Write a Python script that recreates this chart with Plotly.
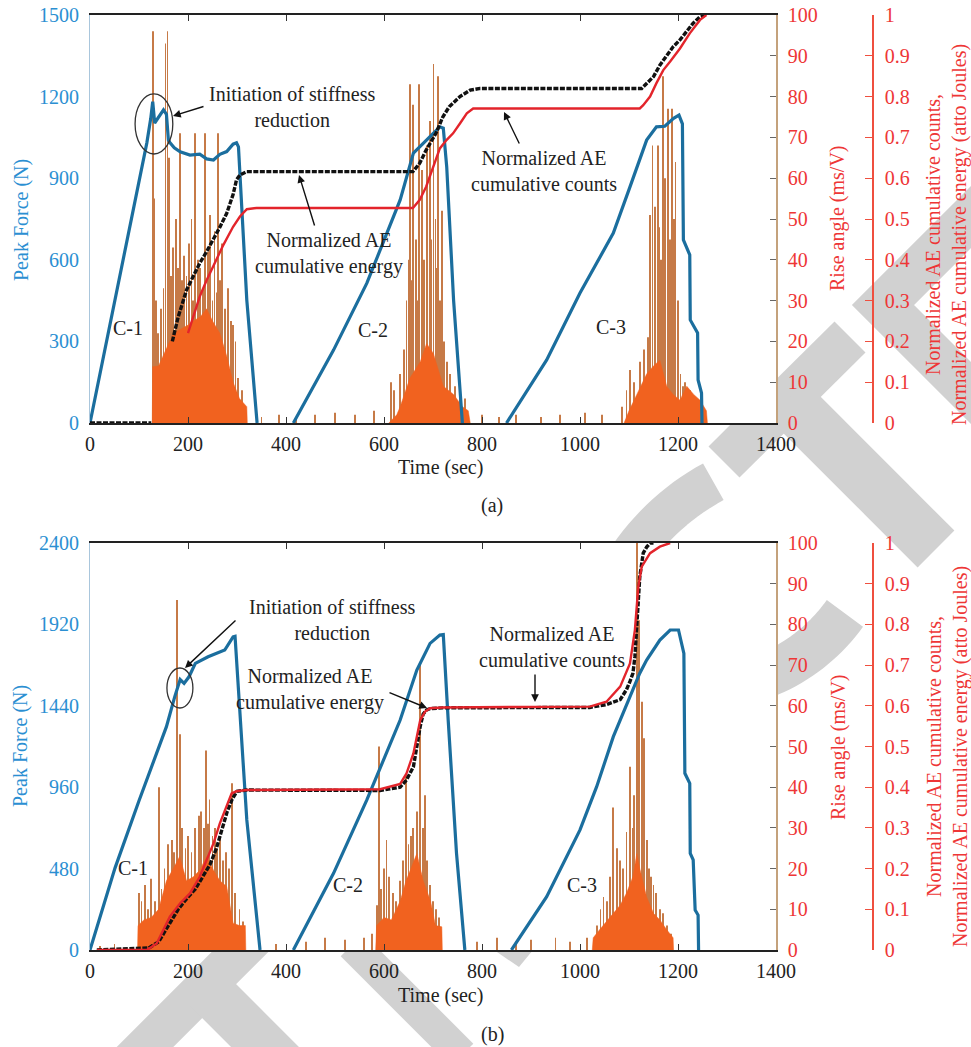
import math
import plotly.graph_objects as go

# ---------------- data ----------------
# Panel (a): Peak force (N)
force_t_a = [0, 116, 124, 128, 132, 140, 150, 156, 160, 163, 172, 184, 204, 224, 238, 252, 265, 279, 292, 299, 303, 320, 341, None,
             415, 497, 565, 633, 660, 687, 701, 714, 721, 728, 742, 755, 760, None,
             850, 932, 1000, 1068, 1102, 1136, 1156, 1173, 1191, 1202, 1209, 1211, 1224, 1225, 1240, 1241, 1248, 1249]
force_a = [0, 1030, 1120, 1181, 1103, 1125, 1151, 1135, 1040, 1031, 1012, 997, 985, 988, 971, 967, 988, 998, 1025, 1030, 1015, 452, 0, None,
           0, 268, 514, 820, 992, 1040, 1066, 1089, 1084, 942, 452, 147, 0, None,
           0, 232, 478, 698, 868, 1040, 1089, 1091, 1120, 1132, 1100, 673, 618, 379, 331, 158, 110, 0]

# Panel (a): rise angle, dense body of each burst
body_t_a1 = [127, 128, 140, 155, 170, 185, 200, 211, 225, 238, 250, 265, 280, 292, 305, 320, 321]
body_ra_a1 = [0, 13.8, 14, 18, 22, 23, 24, 25, 26, 28, 25, 22, 16, 10, 6, 4, 0]
body_t_a2 = [610, 626, 633, 653, 674, 687, 701, 721, 742, 760, 772, 776]
body_ra_a2 = [0, 2, 4, 11, 15, 19.5, 17, 9, 7, 4, 3, 0]
body_t_a3 = [1090, 1100, 1116, 1136, 1150, 1163, 1177, 1190, 1204, 1218, 1232, 1245, 1258, 1260]
body_ra_a3 = [0, 3, 7, 12, 14, 15.4, 9, 7, 5.6, 9, 7, 5.6, 3, 0]

# Panel (a): rise angle spikes
spike_t_a1 = [128, 130, 134, 138, 145, 150, 154, 158, 161, 165, 170, 176, 180, 184, 188, 191, 197, 202, 207, 211,
              215, 220, 225, 230, 235, 240, 245, 250, 254, 258, 262, 266, 270, 276, 282, 287, 292, 297, 302, 310]
spike_ra_a1 = [96, 55, 30, 22, 28, 33, 93, 96, 65, 36, 43, 50, 38, 71, 35, 41, 36, 44, 50, 30,
               71, 40, 38, 33, 71, 42, 51, 30, 47, 32, 71, 35, 44, 28, 33, 25, 24, 20, 11, 8]
noise_t_a1 = [350, 385, 420, 460, 500, 540, 580]
noise_ra_a1 = [1.5, 2, 1.5, 2, 2.5, 2, 3]
spike_t_a2 = [615, 620, 633, 640, 646, 650, 653, 657, 660, 665, 668, 672, 677, 681, 687, 694, 697, 701, 705, 708,
              711, 715, 718, 722, 728, 735, 745, 755, 765]
spike_ra_a2 = [10, 8, 12, 18, 30, 40, 83, 35, 78, 45, 30, 83, 62, 40, 68, 74, 45, 88, 50, 38,
               85, 30, 52, 20, 15, 12, 9, 8, 6]
noise_t_a2 = [800, 835, 870, 920, 960, 1010, 1045, 1085]
noise_ra_a2 = [2, 1.5, 2, 1.5, 2, 2.5, 2, 4]
spike_t_a3 = [1095, 1102, 1110, 1122, 1130, 1139, 1143, 1148, 1153, 1159, 1162, 1166, 1170, 1174, 1180, 1184, 1187,
              1191, 1195, 1200, 1205, 1210, 1215, 1224, 1235, 1245]
spike_ra_a3 = [8, 13, 10, 15, 18, 21, 51, 68, 53, 68, 48, 40, 85, 60, 77, 45, 77,
               50, 64, 30, 12, 9, 10, 8, 6, 5]

# Panel (a): normalized AE cumulative counts (black) and energy (red)
blk_t_a = [0, 125, None, 168, 180, 197, 210, 224, 238, 252, 265, 279, 292, 299, 306, 320, 659, 673, 686, 706,
           720, 733, 755, 776, 796, 1126, 1136, 1150, 1163, 1177, 1190, 1204, 1218, 1231, 1245, 1258]
blk_a = [0, 0, None, 0.2, 0.26, 0.326, 0.36, 0.392, 0.42, 0.449, 0.48, 0.514, 0.56, 0.596, 0.608, 0.616, 0.616, 0.637, 0.669, 0.71,
         0.75, 0.775, 0.8, 0.816, 0.82, 0.82, 0.833, 0.849, 0.877, 0.902, 0.922, 0.939, 0.959, 0.98, 0.996, 1.0]
red_t_a = [200, 210, 224, 238, 252, 265, 272, 292, 306, 320, 340, 659, 673, 686, 700, 714, 728, 741, 755, 769,
           782, 1122, 1129, 1143, 1156, 1170, 1184, 1204, 1224, 1245, 1258]
red_a = [0.22, 0.26, 0.31, 0.35, 0.385, 0.416, 0.436, 0.481, 0.506, 0.524, 0.527, 0.527, 0.547, 0.579, 0.628, 0.673, 0.694, 0.71, 0.734, 0.759,
         0.771, 0.771, 0.779, 0.8, 0.833, 0.865, 0.886, 0.918, 0.955, 0.988, 1.0]

# Panel (b): Peak force (N)
force_t_b = [0, 51, 100, 156, 173, 184, 192, 202, 215, 241, 275, 292, 296, 320, 347, None,
             415, 497, 565, 633, 667, 694, 714, 721, 731, 748, 765, None,
             860, 932, 1000, 1034, 1068, 1102, 1122, 1136, 1163, 1184, 1201, 1212, 1214, 1224, 1225, 1231, 1235, 1241, 1242]
force_b = [0, 483, 880, 1317, 1494, 1595, 1572, 1611, 1690, 1729, 1769, 1847, 1850, 767, 0, None,
           0, 452, 885, 1356, 1651, 1808, 1857, 1860, 1356, 570, 0, None,
           0, 314, 708, 963, 1258, 1494, 1632, 1710, 1828, 1887, 1887, 1749, 1042, 983, 570, 531, 236, 206, 0]

body_t_b1 = [97, 98, 110, 125, 140, 156, 170, 183, 197, 211, 224, 238, 252, 265, 279, 292, 305, 317, 318]
body_ra_b1 = [0, 6, 7.4, 8, 10, 17, 20, 23, 17, 18, 19.6, 23, 19.6, 17, 15.6, 6.6, 6, 6, 0]
body_t_b2 = [583, 585, 600, 615, 633, 645, 655, 667, 680, 695, 705, 718, 719]
body_ra_b2 = [0, 6, 8, 7.4, 12, 17, 20, 23.7, 17, 12, 6, 5.7, 0]
body_t_b3 = [1025, 1027, 1040, 1055, 1068, 1082, 1095, 1108, 1116, 1122, 1130, 1136, 1150, 1163, 1177, 1190, 1191]
body_ra_b3 = [0, 3, 5, 7, 9, 11, 14, 18, 23.7, 20, 16, 13, 9, 7.4, 5, 3, 0]

spike_t_b1 = [100, 105, 112, 118, 125, 132, 140, 146, 152, 160, 167, 172, 177, 183, 188, 195, 200, 207, 215, 222,
              227, 232, 236, 240, 244, 250, 255, 260, 266, 272, 278, 284, 290, 296, 305, 312]
spike_ra_b1 = [14, 12, 16, 10, 17.5, 12, 40, 15, 20, 26, 27, 24, 86, 53, 30, 25, 28, 24, 30, 33,
               34, 30, 49, 31, 37, 28, 30, 25, 28, 22, 24, 20, 41, 14, 10, 7]
noise_t_b1 = [20, 50, 380, 440, 480, 520, 560]
noise_ra_b1 = [1, 1.5, 1.5, 2, 3, 2.5, 3]
spike_t_b2 = [575, 585, 590, 594, 600, 605, 610, 618, 625, 632, 638, 645, 650, 655, 660, 667, 674, 679, 683, 688,
              694, 700, 706, 712]
spike_ra_b2 = [4, 11, 50, 15, 20, 27, 18, 14, 12, 17, 22, 43, 26, 28, 30, 34, 70, 30, 38, 22,
               16, 12, 10, 8]
noise_t_b2 = [790, 830, 870, 900, 950, 980]
noise_ra_b2 = [2, 3, 2, 2.5, 3, 2]
spike_t_b3 = [1015, 1035, 1042, 1048, 1055, 1062, 1068, 1075, 1082, 1088, 1095, 1102, 1107, 1111, 1116, 1121, 1126,
              1130, 1136, 1141, 1145, 1150, 1155, 1163, 1170, 1178, 1185]
spike_ra_b3 = [3, 6, 10, 13, 12, 18, 35, 25, 22, 20, 29, 45, 30, 38, 100, 81, 61,
               52, 27, 20, 18, 16, 14, 10, 9, 6, 4]

red_t_b = [14, 116, 136, 150, 163, 184, 204, 224, 238, 252, 265, 279, 289, 299, 320, 592, 633, 646, 660, 667,
           674, 684, 694, 720, 1020, 1054, 1082, 1102, 1112, 1119, 1126, 1143, 1163, 1184]
red_b = [0, 0, 0.016, 0.049, 0.082, 0.115, 0.139, 0.18, 0.221, 0.262, 0.311, 0.352, 0.385, 0.39, 0.393, 0.395, 0.408, 0.434, 0.483, 0.524,
         0.565, 0.586, 0.594, 0.596, 0.598, 0.61, 0.647, 0.704, 0.786, 0.893, 0.942, 0.975, 0.991, 1.0]
blk_t_b = [14, 120, 140, 160, 180, 200, 215, 230, 245, 258, 270, 280, 290, 300, 320, 592, 633, 646, 660, 667,
           674, 680, 687, 694, 720, 1020, 1054, 1082, 1095, 1102, 1108, 1112, 1116, 1119, 1122, 1126, 1129, 1136, 1143, 1150]
blk_b = [0, 0.005, 0.02, 0.06, 0.1, 0.13, 0.15, 0.18, 0.21, 0.25, 0.3, 0.34, 0.37, 0.39, 0.393, 0.392, 0.4, 0.418, 0.45, 0.5,
         0.55, 0.58, 0.59, 0.593, 0.595, 0.596, 0.603, 0.615, 0.64, 0.66, 0.68, 0.72, 0.81, 0.87, 0.917, 0.95, 0.975, 0.99, 1.0, 1.0]

# tick labels
time_ticks = [0, 200, 400, 600, 800, 1000, 1200, 1400]
force_ticks_a = [0, 300, 600, 900, 1200, 1500]
force_ticks_b = [0, 480, 960, 1440, 1920, 2400]
rise_ticks = [0, 10, 20, 30, 40, 50, 60, 70, 80, 90, 100]
norm_ticks = [0, 0.1, 0.2, 0.3, 0.4, 0.5, 0.6, 0.7, 0.8, 0.9, 1]
norm_labels = ["0", "0.1", "0.2", "0.3", "0.4", "0.5", "0.6", "0.7", "0.8", "0.9", "1"]

# ---------------- styling ----------------
W, H = 971, 1047
SERIF = "Liberation Serif"
BLUE = "#1b6e9e"
BLUE_T = "#2b8fd2"
RED = "#ee3636"
RED_L = "#ef4f3f"
REDLINE = "#e3242b"
BODY = "#f1621f"
SPIKE = "#c67a47"
WM = "#d1d1d1"


def px(x):
    return x / W


def py(y):
    return 1 - y / H


XD = [px(90), px(776)]
YD_A = [py(423), py(15)]
YD_B = [py(950), py(543)]
NORM_POS = px(873)

fig = go.Figure()


def add_panel(xa, ya_rise, ya_force, ya_norm, spikes, bodies, ft, fv, bt, bv, rt, rv):
    st, sv = [], []
    for t, v in spikes:
        st += t
        sv += v
    fig.add_trace(go.Bar(x=st, y=sv, width=1.7, marker=dict(color=SPIKE, line=dict(width=0)),
                         xaxis=xa, yaxis=ya_rise, hoverinfo="skip"))
    for t, v in bodies:
        fig.add_trace(go.Scatter(x=t, y=v, mode="lines", fill="tozeroy", fillcolor=BODY,
                                 line=dict(width=0.5, color=BODY), xaxis=xa, yaxis=ya_rise, hoverinfo="skip"))
    fig.add_trace(go.Scatter(x=ft, y=fv, mode="lines", line=dict(color=BLUE, width=3.2),
                             xaxis=xa, yaxis=ya_force, connectgaps=False, hoverinfo="skip"))
    fig.add_trace(go.Scatter(x=bt, y=bv, mode="lines", line=dict(color="#111111", width=3.4, dash="5px,1.5px"),
                             xaxis=xa, yaxis=ya_norm, connectgaps=False, hoverinfo="skip"))
    fig.add_trace(go.Scatter(x=rt, y=rv, mode="lines", line=dict(color=REDLINE, width=2.4),
                             xaxis=xa, yaxis=ya_norm, hoverinfo="skip"))


add_panel("x", "y", "y2", "y3",
          [(spike_t_a1, spike_ra_a1), (noise_t_a1, noise_ra_a1), (spike_t_a2, spike_ra_a2),
           (noise_t_a2, noise_ra_a2), (spike_t_a3, spike_ra_a3)],
          [(body_t_a1, body_ra_a1), (body_t_a2, body_ra_a2), (body_t_a3, body_ra_a3)],
          force_t_a, force_a, blk_t_a, blk_a, red_t_a, red_a)
add_panel("x2", "y4", "y5", "y6",
          [(spike_t_b1, spike_ra_b1), (noise_t_b1, noise_ra_b1), (spike_t_b2, spike_ra_b2),
           (noise_t_b2, noise_ra_b2), (spike_t_b3, spike_ra_b3)],
          [(body_t_b1, body_ra_b1), (body_t_b2, body_ra_b2), (body_t_b3, body_ra_b3)],
          force_t_b, force_b, blk_t_b, blk_b, red_t_b, red_b)

tf = dict(family=SERIF, size=20, color="#222222")


def xaxis(anchor):
    return dict(domain=XD, range=[0, 1400], anchor=anchor, tickvals=time_ticks, ticks="inside", ticklen=6,
                tickcolor="#333", tickwidth=1, mirror="ticks", showline=True, linecolor="#222", linewidth=1.5,
                showgrid=False, zeroline=False, tickfont=tf, ticklabelstandoff=2, automargin=False)


def rise_axis(domain, anchor):
    return dict(domain=domain, range=[0, 100], side="right", anchor=anchor, tickvals=rise_ticks, ticks="inside",
                ticklen=6, tickcolor="#666", showline=True, linecolor="#c4a27c", linewidth=1.5, showgrid=False,
                zeroline=False, tickfont=dict(family=SERIF, size=20, color=RED), ticklabelstandoff=6,
                automargin=False)


def force_axis(over, anchor, rng, ticks):
    return dict(overlaying=over, side="left", anchor=anchor, range=rng, tickvals=ticks, ticks="",
                showline=True, linecolor="#a9c6dc", linewidth=1, showgrid=False, zeroline=False,
                tickfont=dict(family=SERIF, size=20, color=BLUE_T), ticklabelstandoff=6, automargin=False)


def norm_axis(over):
    return dict(overlaying=over, anchor="free", position=NORM_POS, side="right", range=[0, 1],
                tickvals=norm_ticks, ticktext=norm_labels, ticks="inside", ticklen=7, tickcolor=RED_L,
                showline=True, linecolor=RED_L, linewidth=1.5, showgrid=False, zeroline=False,
                tickfont=dict(family=SERIF, size=20, color=RED), ticklabelstandoff=7, automargin=False)


# ---------------- watermark (decoration, behind plot areas) ----------------
shapes = []


def wline(p0, p1, w):
    shapes.append(dict(type="line", xref="paper", yref="paper", x0=px(p0[0]), y0=py(p0[1]),
                       x1=px(p1[0]), y1=py(p1[1]), line=dict(color=WM, width=w), layer="below"))


def wpath(pts, w=0, fill=False):
    d = "M " + " L ".join(f"{px(x):.5f},{py(y):.5f}" for x, y in pts)
    if fill:
        d += " Z"
        shapes.append(dict(type="path", xref="paper", yref="paper", path=d, fillcolor=WM,
                           line=dict(width=0), layer="below"))
    else:
        shapes.append(dict(type="path", xref="paper", yref="paper", path=d,
                           line=dict(color=WM, width=w), layer="below"))


def warc(cx, cy, r, a0, a1, w, n=24):
    pts = []
    for i in range(n + 1):
        a = math.radians(a0 + (a1 - a0) * i / n)
        pts.append((cx + r * math.cos(a), cy + r * math.sin(a)))
    wpath(pts, w)


wline((850, 337), (724, 462), 44)      # T crossbar (right)
wline((787, 400), (936, 549), 52)      # T stem (right)
wpath([(1010, 178), (883, 305), (1010, 432)], 44)   # E
wline((268, 924), (120, 1072), 40)     # T crossbar (bottom left)
wline((205, 987), (295, 1077), 48)     # T stem (bottom left)
wline((352, 945), (462, 1055), 32)     # leg (bottom)
wpath([(494, 950), (533, 950), (519, 967)], fill=True)
warc(827, 692, 239, -118.4, -165, 42)  # arc between panels
warc(700, 510, 178, 35.5, 80, 45)      # arc right of panel b

# white plot areas above watermark
for (x0, y0, x1, y1) in [(90, 15, 776, 423), (90, 543, 776, 950)]:
    shapes.append(dict(type="rect", xref="paper", yref="paper", x0=px(x0), x1=px(x1), y0=py(y1), y1=py(y0),
                       fillcolor="white", line=dict(width=0), layer="below"))

# ellipses marking stiffness reduction
shapes.append(dict(type="circle", xref="x", yref="y2", x0=92, x1=169, y0=989, y1=1210,
                   line=dict(color="#333", width=1.3), layer="above"))
shapes.append(dict(type="circle", xref="x2", yref="y5", x0=157, x1=210, y0=1427, y1=1663,
                   line=dict(color="#333", width=1.3), layer="above"))

# ---------------- annotations ----------------
ann = []
af = dict(family=SERIF, size=20, color="#222222")


def text(x, y, s, font=af, angle=0):
    ann.append(dict(x=px(x), y=py(y), xref="paper", yref="paper", text=s, showarrow=False, font=font,
                    xanchor="center", yanchor="middle", textangle=angle, align="center"))


def arrow(hx, hy, ax, ay):
    ann.append(dict(x=px(hx), y=py(hy), xref="paper", yref="paper", text="", showarrow=True,
                    ax=ax, ay=ay, arrowhead=2, arrowsize=1.1, arrowwidth=1.4, arrowcolor="#111"))


# panel (a)
text(292, 107, "Initiation of stiffness<br>reduction")
arrow(173, 116, 32, -10)
text(329, 253, "Normalized AE<br>cumulative energy")
arrow(299, 175, 16, 52)
text(544, 171, "Normalized AE<br>cumulative counts")
arrow(504, 112, 16, 33)
text(128, 328, "C-1")
text(373, 330, "C-2")
text(611, 327, "C-3")
text(440, 467, "Time (sec)")
text(492, 505, "(a)")
text(22, 220, "Peak Force (N)", dict(family=SERIF, size=20, color=BLUE_T), -90)
text(837, 218, "Rise angle (ms/V)", dict(family=SERIF, size=20, color=RED), -90)
text(946, 235, "Normalized AE cumulative counts,<br>Normalized AE cumulative energy (atto Joules)",
     dict(family=SERIF, size=20, color=RED), -90)

# panel (b)
text(332, 620, "Initiation of stiffness<br>reduction")
arrow(185, 668, 52, -49)
text(310, 689, "Normalized AE<br>cumulative energy")
arrow(427, 708, -39, -16)
text(552, 647, "Normalized AE<br>cumulative counts")
arrow(535, 702, 0, -29)
text(133, 868, "C-1")
text(348, 885, "C-2")
text(582, 885, "C-3")
text(440, 995, "Time (sec)")
text(492, 1034, "(b)")
text(20, 746, "Peak Force (N)", dict(family=SERIF, size=20, color=BLUE_T), -90)
text(838, 747, "Rise angle (ms/V)", dict(family=SERIF, size=20, color=RED), -90)
text(947, 757, "Normalized AE cumulative counts,<br>Normalized AE cumulative energy (atto Joules)",
     dict(family=SERIF, size=20, color=RED), -90)

fig.update_layout(
    template="none",
    width=W, height=H, autosize=False,
    margin=dict(l=0, r=0, t=0, b=0, pad=0),
    paper_bgcolor="white", plot_bgcolor="white",
    showlegend=False, font=dict(family=SERIF),
    xaxis=xaxis("y"), xaxis2=xaxis("y4"),
    yaxis=rise_axis(YD_A, "x"),
    yaxis2=force_axis("y", "x", [0, 1500], force_ticks_a),
    yaxis3=norm_axis("y"),
    yaxis4=rise_axis(YD_B, "x2"),
    yaxis5=force_axis("y4", "x2", [0, 2400], force_ticks_b),
    yaxis6=norm_axis("y4"),
    shapes=shapes, annotations=ann,
)

fig.write_html("out.html")
